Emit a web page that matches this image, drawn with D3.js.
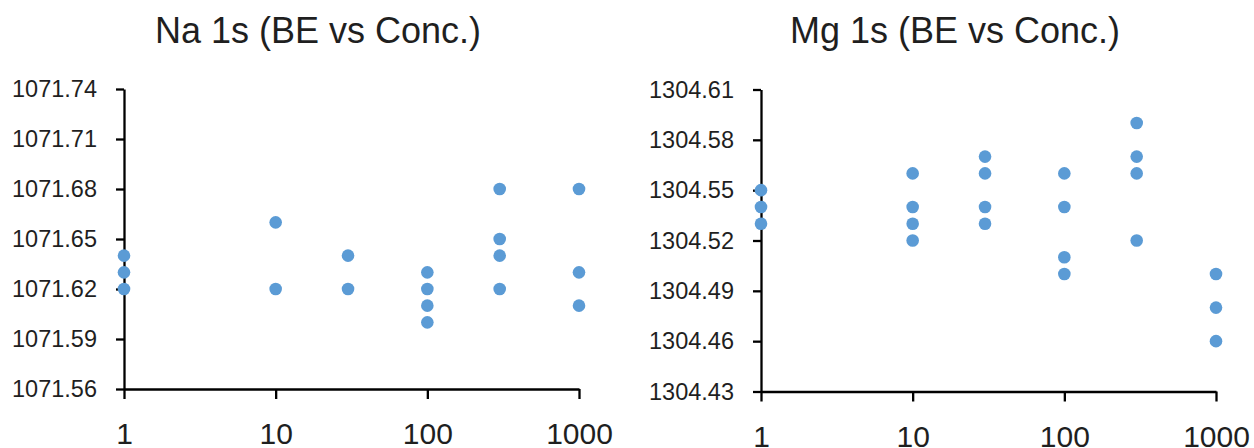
<!DOCTYPE html>
<html>
<head>
<meta charset="utf-8">
<script src="https://cdn.jsdelivr.net/npm/d3@7"></script>
<style>
  html, body { margin: 0; padding: 0; background: #ffffff; }
  svg { display: block; }
  .tick text { fill: #1f1f1f; font-family: "Liberation Sans", Arial, sans-serif; }
  .title { fill: #1f1f1f; font-family: "Liberation Sans", Arial, sans-serif; }
</style>
</head>
<body>
<svg id="chart" width="1254" height="448"></svg>
<script>
// Concentration (x) for each measured point, and its binding energy (y)
const naConc = [1, 1, 1, 10, 10, 30, 30, 100, 100, 100, 100, 300, 300, 300, 300, 1000, 1000, 1000];
const naBE = [1071.64, 1071.63, 1071.62, 1071.66, 1071.62, 1071.64, 1071.62,
              1071.63, 1071.62, 1071.61, 1071.60, 1071.68, 1071.65, 1071.64, 1071.62,
              1071.68, 1071.63, 1071.61];

const mgConc = [1, 1, 1, 10, 10, 10, 10, 30, 30, 30, 30, 100, 100, 100, 100, 300, 300, 300, 300, 1000, 1000, 1000];
const mgBE = [1304.55, 1304.54, 1304.53, 1304.56, 1304.54, 1304.53, 1304.52,
              1304.57, 1304.56, 1304.54, 1304.53, 1304.56, 1304.54, 1304.51, 1304.50,
              1304.59, 1304.57, 1304.56, 1304.52, 1304.50, 1304.48, 1304.46];

const xTicks = [1, 10, 100, 1000];
const naTicks = [1071.56, 1071.59, 1071.62, 1071.65, 1071.68, 1071.71, 1071.74];
const mgTicks = [1304.43, 1304.46, 1304.49, 1304.52, 1304.55, 1304.58, 1304.61];

const naTitle = "Na 1s (BE vs Conc.)";
const mgTitle = "Mg 1s (BE vs Conc.)";

const svg = d3.select("#chart");
svg.append("rect").attr("width", 1254).attr("height", 448).attr("fill", "#ffffff");

function drawPanel(opts) {
  const { conc, be, yTicks, title, left, right, top, bottom, titleX } = opts;

  const x = d3.scaleLog().domain([1, 1000]).range([left, right]);
  const y = d3.scaleLinear().domain([yTicks[0], yTicks[yTicks.length - 1]]).range([bottom, top]);

  const g = svg.append("g");

  // y axis
  const yAxis = d3.axisLeft(y)
    .tickValues(yTicks)
    .tickFormat(d3.format(".2f"))
    .tickSize(8)
    .tickSizeOuter(0)
    .tickPadding(19);
  const ya = g.append("g").attr("transform", `translate(${left},0)`).call(yAxis);
  ya.selectAll("text").style("font-size", "23.5px");

  // x axis (log scale, decades)
  const xAxis = d3.axisBottom(x)
    .tickValues(xTicks)
    .tickFormat(d3.format("d"))
    .tickSize(10)
    .tickSizeOuter(0)
    .tickPadding(24);
  const xa = g.append("g").attr("transform", `translate(0,${bottom})`).call(xAxis);
  xa.selectAll("text").style("font-size", "30px");

  [ya, xa].forEach(a => {
    a.select(".domain").attr("stroke", "#000").attr("stroke-width", 2.3);
    a.selectAll(".tick line").attr("stroke", "#000").attr("stroke-width", 2.3);
  });

  // points
  g.append("g").selectAll("circle")
    .data(be.map((v, i) => ({ c: conc[i], v })))
    .join("circle")
    .attr("cx", d => x(d.c))
    .attr("cy", d => y(d.v))
    .attr("r", 6.3)
    .attr("fill", "#5b9bd5");

  g.append("text")
    .attr("class", "title")
    .attr("x", titleX)
    .attr("y", 43)
    .attr("text-anchor", "middle")
    .style("font-size", "36px")
    .text(title);
}

drawPanel({ conc: naConc, be: naBE, yTicks: naTicks, title: naTitle,
            left: 124, right: 579, top: 89, bottom: 389, titleX: 318 });
drawPanel({ conc: mgConc, be: mgBE, yTicks: mgTicks, title: mgTitle,
            left: 761, right: 1216, top: 89.5, bottom: 391.5, titleX: 955 });
</script>
</body>
</html>
